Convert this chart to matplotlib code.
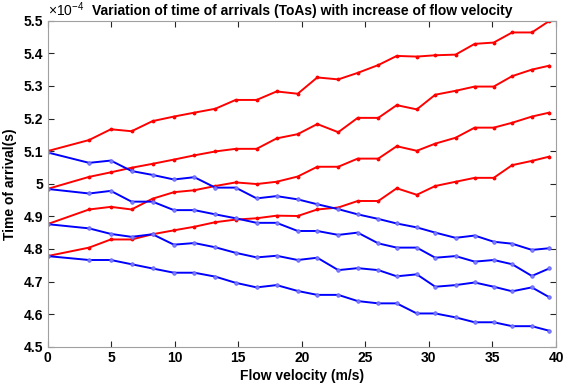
import matplotlib
matplotlib.use("Agg")
from matplotlib import pyplot as plt

plt.rcParams["font.family"] = ["Liberation Sans", "DejaVu Sans"]
plt.rcParams["font.weight"] = "bold"
plt.rcParams["mathtext.default"] = "regular"

# flow velocity (m/s)
velocity = [0, 3.27, 4.98, 6.61, 8.26, 9.94, 11.55, 13.2, 14.8, 16.45, 18.02, 19.68,
            21.22, 22.87, 24.4, 26.02, 27.47, 29.05, 30.5, 32.1, 33.6, 35.1, 36.55, 38.1, 39.46]

# time of arrival, x1e-4 s
red_1 = [5.100, 5.134, 5.167, 5.161, 5.192, 5.206, 5.218, 5.230, 5.257, 5.257, 5.283, 5.276,
         5.326, 5.320, 5.340, 5.364, 5.392, 5.390, 5.394, 5.396, 5.429, 5.433, 5.464, 5.464, 5.499]
red_2 = [4.984, 5.021, 5.035, 5.049, 5.061, 5.074, 5.087, 5.099, 5.107, 5.107, 5.139, 5.152,
         5.183, 5.158, 5.202, 5.202, 5.241, 5.228, 5.273, 5.285, 5.298, 5.298, 5.330, 5.350, 5.362]
red_3 = [4.876, 4.921, 4.929, 4.921, 4.954, 4.974, 4.980, 4.993, 5.004, 4.999, 5.006, 5.022,
         5.052, 5.052, 5.077, 5.077, 5.115, 5.101, 5.123, 5.141, 5.172, 5.172, 5.187, 5.206, 5.218]
red_4 = [4.778, 4.804, 4.829, 4.829, 4.845, 4.857, 4.868, 4.882, 4.890, 4.894, 4.902, 4.901,
         4.921, 4.927, 4.947, 4.947, 4.986, 4.966, 4.993, 5.006, 5.018, 5.018, 5.057, 5.070, 5.083]

blue_1 = [5.096, 5.064, 5.071, 5.039, 5.027, 5.013, 5.020, 4.988, 4.988, 4.955, 4.962, 4.952,
          4.937, 4.922, 4.906, 4.892, 4.878, 4.866, 4.850, 4.834, 4.841, 4.822, 4.816, 4.797, 4.802]
blue_2 = [4.984, 4.970, 4.978, 4.945, 4.945, 4.919, 4.919, 4.906, 4.894, 4.880, 4.880, 4.855,
          4.855, 4.843, 4.850, 4.817, 4.804, 4.804, 4.773, 4.778, 4.761, 4.766, 4.753, 4.717, 4.740]
blue_3 = [4.876, 4.863, 4.846, 4.837, 4.845, 4.813, 4.818, 4.805, 4.788, 4.774, 4.779, 4.766,
          4.773, 4.735, 4.741, 4.735, 4.716, 4.722, 4.684, 4.689, 4.697, 4.684, 4.670, 4.682, 4.652]
blue_4 = [4.778, 4.766, 4.766, 4.753, 4.740, 4.727, 4.727, 4.715, 4.696, 4.682, 4.689, 4.671,
          4.659, 4.659, 4.640, 4.633, 4.633, 4.602, 4.602, 4.590, 4.575, 4.575, 4.563, 4.563, 4.549]

y_ticks = [4.5, 4.6, 4.7, 4.8, 4.9, 5.0, 5.1, 5.2, 5.3, 5.4, 5.5]
y_tick_labels = ["4.5", "4.6", "4.7", "4.8", "4.9", "5", "5.1", "5.2", "5.3", "5.4", "5.5"]

fig = plt.figure(figsize=(5.63, 3.88), dpi=100)
ax = fig.add_axes([0.0844, 0.1064, 0.9032, 0.8402])

for s in [red_1, red_2, red_3, red_4]:
    ax.plot(velocity, s, "-", color="#ff0000", lw=1.4, marker=".", ms=3.5)
for s in [blue_1, blue_2, blue_3, blue_4]:
    ax.plot(velocity, s, "-", color="#0000ff", lw=1.4, marker="o", ms=2.5,
            mfc="#8080ff", mec="#6060ff", mew=0.6)

ax.set_xlim(0, 40)
ax.set_ylim(4.5, 5.5)
ax.set_xticks([0, 5, 10, 15, 20, 25, 30, 35, 40])
ax.set_yticks(y_ticks)
ax.set_yticklabels(y_tick_labels)
ax.tick_params(direction="in", top=True, right=True, labelsize=10, length=4,
               color="#262626", pad=3)
for sp in ax.spines.values():
    sp.set_color("#a0a0a0")

ax.set_xlabel("Flow velocity (m/s)", fontsize=10, fontweight="bold", labelpad=3)
ax.set_ylabel("Time of arrival(s)", fontsize=10, fontweight="bold", labelpad=5)
ax.set_title("Variation of time of arrivals (ToAs) with increase of flow velocity",
             fontsize=10, fontweight="bold", pad=4)
ax.text(0.0, 1.005, "×10$^{-4}$", transform=ax.transAxes, fontsize=10,
        fontweight="normal", ha="left", va="bottom")

plt.savefig("out.png", dpi=100)
